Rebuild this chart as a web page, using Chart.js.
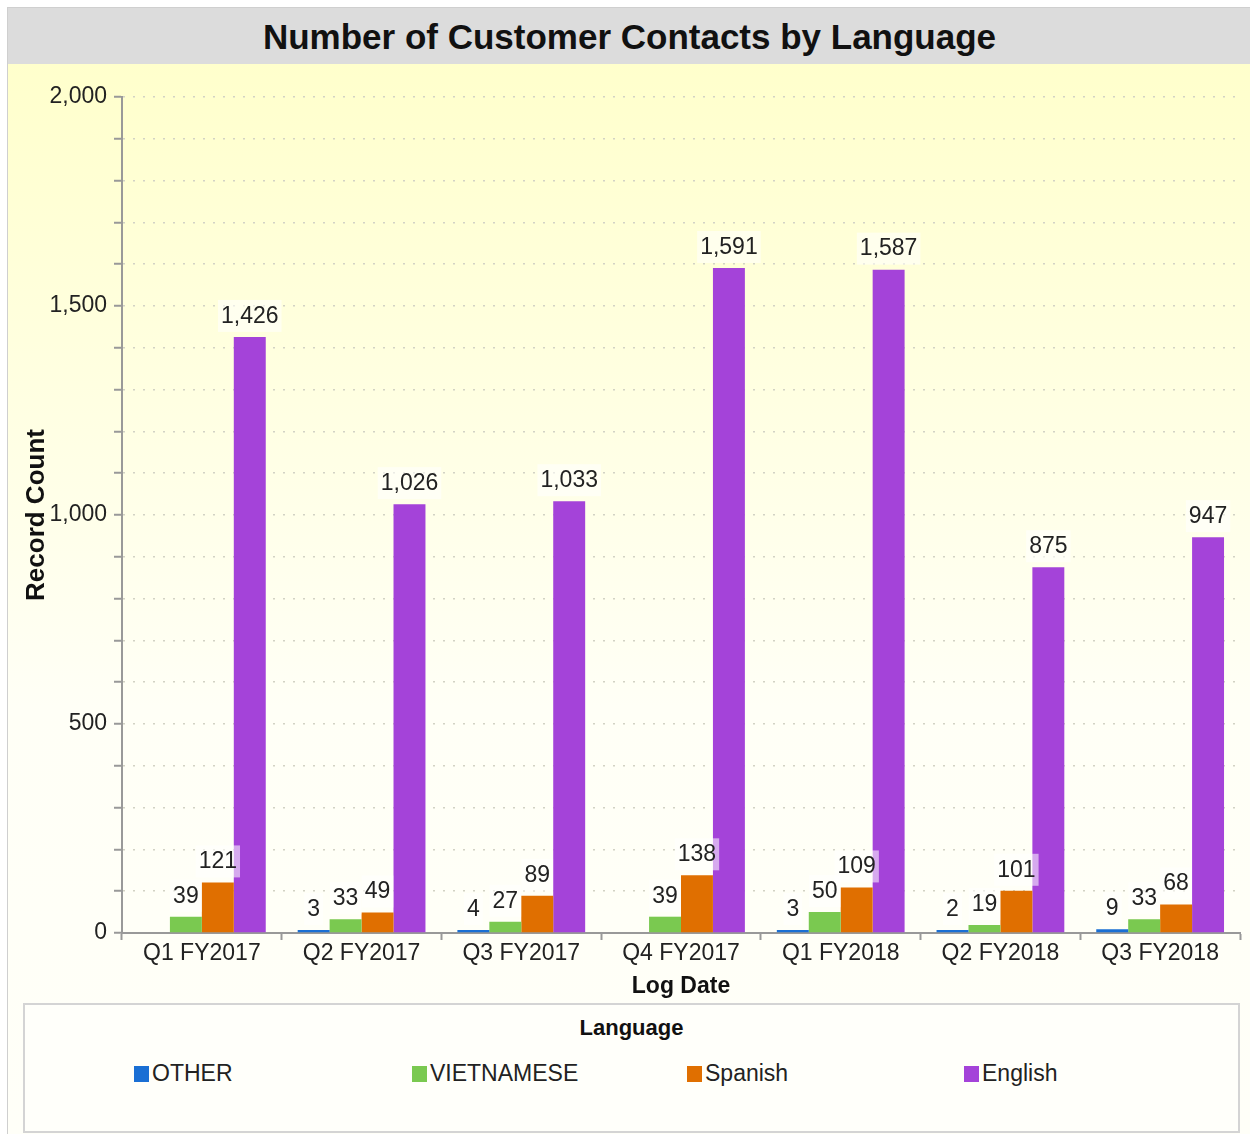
<!DOCTYPE html>
<html>
<head>
<meta charset="utf-8">
<script src="https://cdn.jsdelivr.net/npm/chart.js@4"></script>
<style>
  body { margin: 0; background: #fff; font-family: "Liberation Sans", Arial, sans-serif; }
  #wrap { position: absolute; left: 7px; top: 7px; width: 1243px; height: 1127px;
          border-top: 1px solid #cfcfcf; border-left: 1px solid #cfcfcf; overflow: hidden; }
  #title { position: absolute; left: 0; top: 0; width: 1243px; height: 56px; background: #dcdcdc;
           font-weight: bold; font-size: 35px; line-height: 58px; text-align: center; color: #111; }
  #plot { position: absolute; left: 0; top: 56px; width: 1243px; height: 1071px;
          background: linear-gradient(#ffffcc, #fffff6 60%, #fffff8); }
  #legendBox { position: absolute; left: 15px; top: 995px; width: 1213px; height: 126px;
               border: 2px solid #d4d4d4; background: #fffffa; }
  #legendTitle { position: absolute; left: 0; top: 10px; width: 100%; text-align: center;
                 font-weight: bold; font-size: 22px; color: #111; }
  .item { position: absolute; top: 55px; font-size: 23px; color: #222; white-space: nowrap; }
  .item span { display: inline-block; width: 15px; height: 16px; margin-right: 3px; vertical-align: -1px; }
</style>
</head>
<body>
<div id="wrap">
  <div id="title">Number of Customer Contacts by Language</div>
  <div id="plot"><canvas id="barChartContacts" width="1242" height="936"></canvas></div>
  <div id="legendBox"><div id="legendTitle">Language</div></div>
</div>
<script>
var quarters = ['Q1 FY2017', 'Q2 FY2017', 'Q3 FY2017', 'Q4 FY2017', 'Q1 FY2018', 'Q2 FY2018', 'Q3 FY2018']
var languages = ['OTHER', 'VIETNAMESE', 'Spanish', 'English']
var otherCounts = [null, 3, 4, null, 3, 2, 9]
var vietnameseCounts = [39, 33, 27, 39, 50, 19, 33]
var spanishCounts = [121, 49, 89, 138, 109, 101, 68]
var englishCounts = [1426, 1026, 1033, 1591, 1587, 875, 947]
var yTickLabels = [0, 500, 1000, 1500, 2000]
var colors = ['#1a6fd4', '#7ac950', '#e06f00', '#a443d9']
var legendLeft = [109, 387, 662, 939]

var fontFamily = '"Liberation Sans", Arial, sans-serif'

// value labels above each bar, with a pale box behind them
var valueLabels = {
    id: 'valueLabels',
    afterDatasetsDraw: function (chart) {
        var ctx = chart.ctx
        ctx.save()
        ctx.font = '23px ' + fontFamily
        ctx.textAlign = 'center'
        ctx.textBaseline = 'bottom'
        chart.data.datasets.forEach(function (ds, i) {
            chart.getDatasetMeta(i).data.forEach(function (bar, j) {
                var v = ds.data[j]
                if (v === null || v === undefined) return
                var txt = v.toLocaleString('en-US')
                var w = ctx.measureText(txt).width
                var yb = bar.y - 11
                ctx.fillStyle = 'rgba(255,255,255,0.55)'
                ctx.fillRect(bar.x - w / 2 - 3, yb - 26, w + 6, 32)
                ctx.fillStyle = '#222'
                ctx.fillText(txt, bar.x, yb + 2)
            })
        })
        ctx.restore()
    }
}

var seriesValues = [otherCounts, vietnameseCounts, spanishCounts, englishCounts]
var barChartData = {
    labels: quarters,
    datasets: languages.map(function (name, i) {
        return {
            label: name,
            data: seriesValues[i],
            backgroundColor: colors[i],
            categoryPercentage: 0.8,
            barPercentage: 1.0,
            minBarLength: 3
        }
    })
}

var barChartCanvas = document.getElementById('barChartContacts').getContext('2d')
new Chart(barChartCanvas, {
    type: 'bar',
    data: barChartData,
    plugins: [valueLabels],
    options: {
        responsive: false,
        animation: false,
        layout: { padding: { top: 33, right: 10, left: 0, bottom: 0 } },
        plugins: { legend: { display: false }, tooltip: { enabled: false } },
        scales: {
            x: {
                grid: { offset: true, drawOnChartArea: false, tickLength: 7, tickColor: '#999', tickWidth: 2 },
                border: { color: '#999', width: 2 },
                ticks: { color: '#222', padding: 0, font: { family: fontFamily, size: 23 } },
                title: { display: true, text: 'Log Date', color: '#111', padding: { top: 0, bottom: 0 },
                         font: { family: fontFamily, size: 23, weight: 'bold' } },
                afterFit: function (scale) { scale.height = 67 }
            },
            y: {
                min: 0,
                max: 2000,
                grid: { color: '#d2d2c4', lineWidth: 1.5, tickLength: 8, tickColor: '#999', tickWidth: 2, tickBorderDash: [] },
                border: { color: '#999', width: 2, dash: [2, 8] },
                ticks: {
                    stepSize: 100,
                    autoSkip: false,
                    padding: 7,
                    color: '#222',
                    font: { family: fontFamily, size: 23 },
                    callback: function (v) { return yTickLabels.indexOf(v) >= 0 ? v.toLocaleString('en-US') : '' }
                },
                title: { display: true, text: 'Record Count', color: '#111', padding: { top: 13, bottom: 0 },
                         font: { family: fontFamily, size: 26, weight: 'bold' } },
                afterFit: function (scale) { scale.width = 114 }
            }
        }
    }
})

// legend entries from the same names and colours
var box = document.getElementById('legendBox')
languages.forEach(function (name, i) {
    var d = document.createElement('div')
    d.className = 'item'
    d.style.left = legendLeft[i] + 'px'
    d.innerHTML = '<span style="background:' + colors[i] + '"></span>' + name
    box.appendChild(d)
})
</script>
</body>
</html>
